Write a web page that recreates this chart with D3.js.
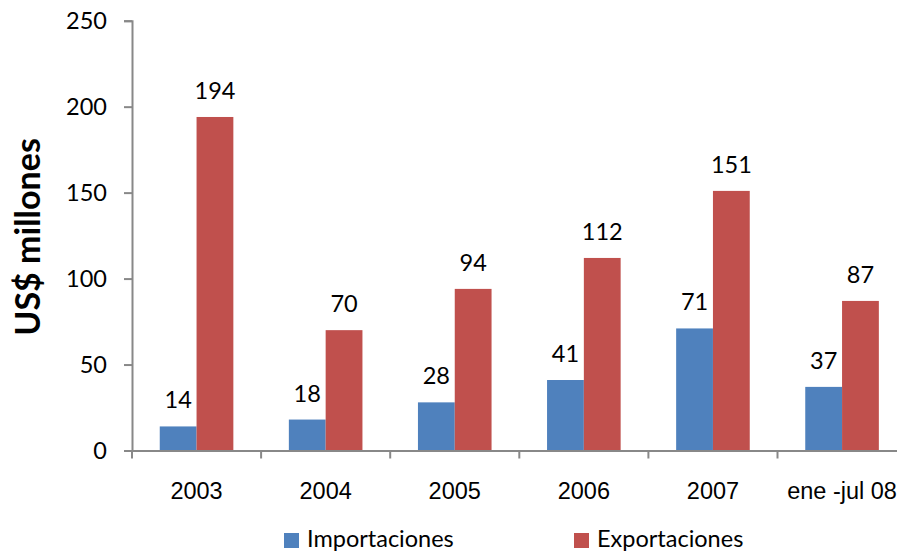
<!DOCTYPE html>
<html><head><meta charset="utf-8">
<script src="https://cdn.jsdelivr.net/npm/d3@7"></script>
<style>body{margin:0;background:#fff;} svg{display:block;font-family:Lato,'Open Sans',sans-serif;}</style>
</head><body>
<svg id="c" width="897" height="553"></svg>
<script>
const categories = ["2003","2004","2005","2006","2007","ene -jul 08"];
const importaciones = [14,18,28,41,71,37];
const exportaciones = [194,70,94,112,151,87];
const seriesNames = ["Importaciones","Exportaciones"];
const colors = ["#4F81BD","#C0504D"];
const yTicks = [0,50,100,150,200,250];

const svg = d3.select("#c");
const x0 = 132, band = 129.1;
const fs = 23.5;
const x = d3.scaleBand().domain(categories).range([x0, x0 + band*categories.length]).padding(0);
const y = d3.scaleLinear().domain([0,250]).range([450.5, 20.7]);
const bw = 36.8;
const axisColor = "#888";

// y axis
const yAxis = d3.axisLeft(y).tickValues(yTicks).tickSize(8).tickPadding(17);
const gy = svg.append("g").attr("transform",`translate(${x0},0)`).call(yAxis);
gy.select(".domain").attr("stroke",axisColor).attr("stroke-width",2);
gy.selectAll(".tick line").attr("stroke",axisColor).attr("stroke-width",2);
gy.selectAll(".tick text").attr("font-size",fs).attr("font-family","Lato").attr("fill","#000");

// bars
const data = [importaciones, exportaciones];
data.forEach((vals,si)=>{
  svg.append("g").selectAll("rect").data(vals).join("rect")
    .attr("x",(d,i)=>x(categories[i])+x.bandwidth()/2 + (si===0?-bw:0))
    .attr("y",d=>y(d))
    .attr("width",bw)
    .attr("height",d=>y(0)-y(d))
    .attr("fill",colors[si]);
  svg.append("g").selectAll("text").data(vals).join("text")
    .attr("x",(d,i)=>x(categories[i])+x.bandwidth()/2 + (si===0?-bw/2:bw/2))
    .attr("y",d=>y(d)-18)
    .attr("text-anchor","middle")
    .attr("font-size",fs)
    .text(d=>d);
});

// x axis
const xAxis = d3.axisBottom(x).tickSize(0).tickPadding(32);
const gx = svg.append("g").attr("transform",`translate(0,${y(0)})`).call(xAxis);
gx.select(".domain").attr("stroke",axisColor).attr("stroke-width",2);
gx.selectAll(".tick text").attr("font-size",fs).attr("fill","#000");
const bounds = d3.range(categories.length+1).map(i=>x0+band*i);
gx.selectAll(".btick").data(bounds).join("line").attr("class","btick")
  .attr("x1",d=>d).attr("x2",d=>d).attr("y1",0).attr("y2",8)
  .attr("stroke",axisColor).attr("stroke-width",2);

// y title
svg.append("text").attr("transform","translate(40,237) rotate(-90)")
  .attr("text-anchor","middle").attr("font-size",34).attr("font-weight","bold")
  .text("US$ millones");

// legend
const legX = [284, 574];
seriesNames.forEach((n,i)=>{
  svg.append("rect").attr("x",legX[i]).attr("y",533).attr("width",15).attr("height",15).attr("fill",colors[i]);
  svg.append("text").attr("x",legX[i]+23).attr("y",547).attr("font-size",fs).text(n);
});
</script>
</body></html>
